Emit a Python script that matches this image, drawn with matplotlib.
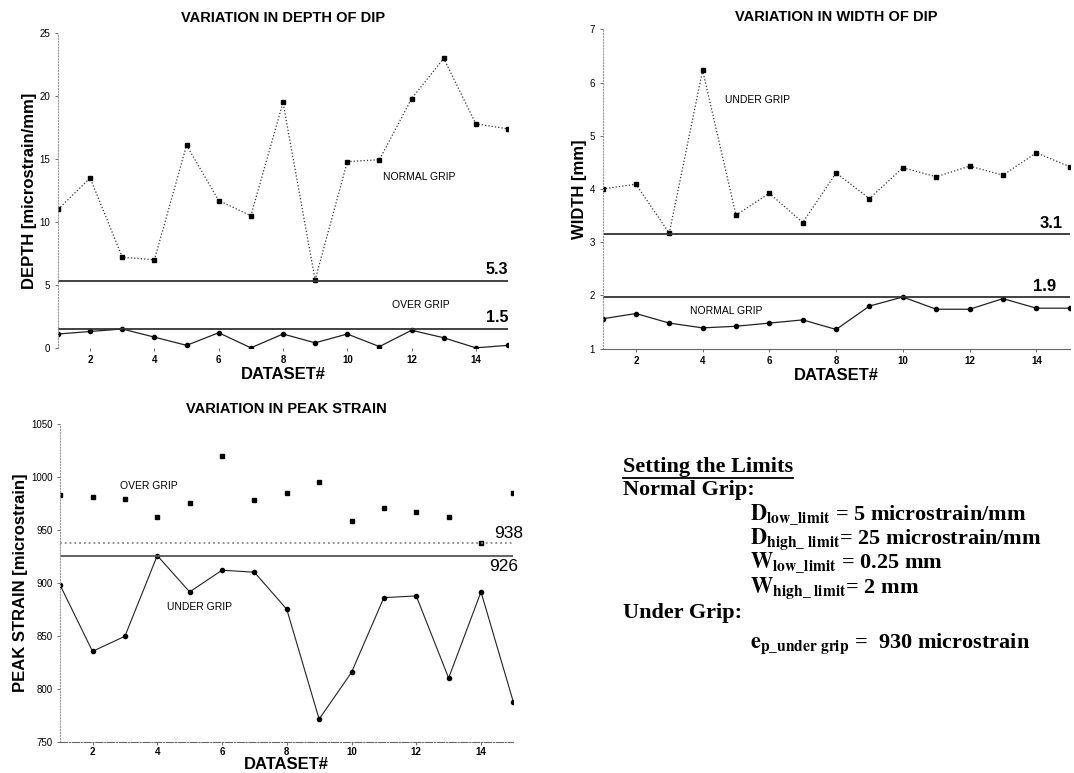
import matplotlib.pyplot as plt
from matplotlib.lines import Line2D
import numpy as np

plt.rcParams['font.family'] = ['Liberation Sans', 'DejaVu Sans']
plt.rcParams['mathtext.fontset'] = 'stix'

datasets = np.arange(1, 16)

# depth of dip [microstrain/mm]
depth_normal = [11.0, 13.5, 7.2, 7.0, 16.1, 11.7, 10.5, 19.5, 5.4, 14.8, 14.95, 19.8, 23.0, 17.8, 17.4]
depth_over = [1.1, 1.3, 1.5, 0.85, 0.2, 1.2, 0.0, 1.1, 0.4, 1.1, 0.1, 1.4, 0.8, 0.0, 0.2]
depth_limits = [5.3, 1.5]

# width of dip [mm]
width_under = [4.0, 4.09, 3.17, 6.23, 3.51, 3.92, 3.37, 4.30, 3.82, 4.40, 4.23, 4.43, 4.26, 4.68, 4.42]
width_normal = [1.56, 1.66, 1.48, 1.39, 1.42, 1.48, 1.54, 1.36, 1.80, 1.97, 1.74, 1.74, 1.94, 1.76, 1.76]
width_limits = [3.15, 1.97]

# peak strain [microstrain]
strain_over = [983.5, 981.6, 979.4, 963, 975.3, 1020.4, 978.5, 985, 995.8, 958.6, 971.5, 967.7, 962.4, 938.4, 984.8]
strain_under = [898.1, 835.7, 849.9, 926.1, 891.8, 912.3, 910.4, 875.4, 771.7, 815.8, 886.4, 888, 810.5, 891.8, 787.8]
strain_limits = [938, 926]

xticks = [2, 4, 6, 8, 10, 12, 14]


def style_axes(ax, show_bottom=True, xlabelpad=1, tickpad=3.5):
    for s in ['top', 'right']:
        ax.spines[s].set_visible(False)
    ax.spines['left'].set_color('#999999')
    ax.spines['left'].set_linestyle(':')
    ax.spines['left'].set_linewidth(0.8)
    if show_bottom:
        ax.spines['bottom'].set_color('#666666')
        ax.spines['bottom'].set_linewidth(0.8)
    else:
        ax.spines['bottom'].set_visible(False)
    ax.set_xticks(xticks)
    ax.tick_params(axis='both', labelsize=7, length=2, width=0.6, color='#555555')
    ax.tick_params(axis='x', pad=tickpad)
    for lab in ax.get_xticklabels():
        lab.set_fontweight('bold')
    ax.set_xlabel('DATASET#', fontsize=12, fontweight='bold', labelpad=xlabelpad)


fig = plt.figure(figsize=(10.74, 7.73), dpi=100)

# 1. depth of dip
ax1 = fig.add_axes([0.054, 0.550, 0.419, 0.407])
ax1.plot(datasets, depth_normal, color='#333333', linestyle=':', linewidth=0.9,
         marker='s', markersize=3, markerfacecolor='black', markeredgecolor='black')
ax1.plot(datasets, depth_over, color='#222222', linestyle='-', linewidth=0.9,
         marker='o', markersize=3, markerfacecolor='black', markeredgecolor='black')
for v in depth_limits:
    ax1.axhline(v, color='#333333', linewidth=1.3)
ax1.text(15, depth_limits[0] + 0.3, '5.3', ha='right', va='bottom', fontsize=11.5, fontweight='bold')
ax1.text(15, depth_limits[1] + 0.3, '1.5', ha='right', va='bottom', fontsize=11.5, fontweight='bold')
ax1.text(11.1, 13.6, 'NORMAL GRIP', fontsize=7.5, va='center')
ax1.text(11.4, 3.4, 'OVER GRIP', fontsize=7.5, va='center')
ax1.set_xlim(1, 15)
ax1.set_ylim(0, 25)
ax1.set_yticks([0, 5, 10, 15, 20, 25])
style_axes(ax1, show_bottom=False)
ax1.set_ylabel('DEPTH [microstrain/mm]', fontsize=12, fontweight='bold', labelpad=2)
ax1.set_title('VARIATION IN DEPTH OF DIP', fontsize=10.5, fontweight='bold', pad=8)

# 2. width of dip
ax2 = fig.add_axes([0.561, 0.549, 0.435, 0.413])
ax2.plot(datasets, width_under, color='#333333', linestyle=':', linewidth=0.9,
         marker='s', markersize=3, markerfacecolor='black', markeredgecolor='black')
ax2.plot(datasets, width_normal, color='#222222', linestyle='-', linewidth=0.9,
         marker='o', markersize=3, markerfacecolor='black', markeredgecolor='black')
for v in width_limits:
    ax2.axhline(v, color='#333333', linewidth=1.3)
ax2.text(14.1, width_limits[0] + 0.06, '3.1', ha='left', va='bottom', fontsize=12, fontweight='bold', clip_on=False)
ax2.text(13.9, width_limits[1] + 0.06, '1.9', ha='left', va='bottom', fontsize=12, fontweight='bold', clip_on=False)
ax2.text(4.67, 5.67, 'UNDER GRIP', fontsize=7.5, va='center')
ax2.text(3.62, 1.71, 'NORMAL GRIP', fontsize=7.5, va='center')
ax2.set_xlim(1, 15)
ax2.set_ylim(1, 7)
ax2.set_yticks([1, 2, 3, 4, 5, 6, 7])
style_axes(ax2)
ax2.set_ylabel('WIDTH [mm]', fontsize=12, fontweight='bold', labelpad=2)
ax2.set_title('VARIATION IN WIDTH OF DIP', fontsize=10.5, fontweight='bold', pad=6)

# 3. peak strain
ax3 = fig.add_axes([0.056, 0.040, 0.422, 0.411])
ax3.plot(datasets, strain_over, linestyle='none',
         marker='s', markersize=3, markerfacecolor='black', markeredgecolor='black')
ax3.plot(datasets, strain_under, color='#222222', linestyle='-', linewidth=0.8,
         marker='o', markersize=3, markerfacecolor='black', markeredgecolor='black')
ax3.axhline(strain_limits[0], color='#888888', linestyle=':', linewidth=1.3)
ax3.axhline(strain_limits[1], color='#555555', linewidth=1.3)
ax3.text(14.4, strain_limits[0] + 1.5, '938', ha='left', va='bottom', fontsize=12.5, clip_on=False)
ax3.text(14.25, strain_limits[1] - 3, '926', ha='left', va='top', fontsize=12.5, clip_on=False)
ax3.text(2.86, 991.4, 'OVER GRIP', fontsize=7.5, va='center')
ax3.text(4.3, 877.6, 'UNDER GRIP', fontsize=7.5, va='center')
ax3.set_xlim(1, 15)
ax3.set_ylim(750, 1050)
ax3.set_yticks([750, 800, 850, 900, 950, 1000, 1050])
style_axes(ax3, xlabelpad=0, tickpad=1.5)
ax3.spines['bottom'].set_linestyle('-.')
ax3.set_ylabel('PEAK STRAIN [microstrain]', fontsize=12, fontweight='bold', labelpad=2)
ax3.set_title('VARIATION IN PEAK STRAIN', fontsize=10.5, fontweight='bold', pad=8)

# limits text panel
serif = dict(family='Liberation Serif', fontweight='bold', fontsize=16, va='baseline')
heading = fig.text(623 / 1074, 1 - 472 / 773, 'Setting the Limits', **serif)
fig.text(623 / 1074, 1 - 495 / 773, 'Normal Grip:', **serif)
fig.text(750 / 1074, 1 - 520 / 773, r'$\mathbf{D}_{\mathbf{low\_limit}}$ = 5 microstrain/mm', **serif)
fig.text(750 / 1074, 1 - 544 / 773, r'$\mathbf{D}_{\mathbf{high\_\ limit}}$= 25 microstrain/mm', **serif)
fig.text(750 / 1074, 1 - 568 / 773, r'$\mathbf{W}_{\mathbf{low\_limit}}$ = 0.25 mm', **serif)
fig.text(750 / 1074, 1 - 593 / 773, r'$\mathbf{W}_{\mathbf{high\_\ limit}}$= 2 mm', **serif)
fig.text(623 / 1074, 1 - 618 / 773, 'Under Grip:', **serif)
fig.text(750 / 1074, 1 - 648 / 773, r'$\mathbf{e}_{\mathbf{p\_under\ grip}}$ =  930 microstrain', **serif)

# underline the heading
fig.canvas.draw()
bb = heading.get_window_extent().transformed(fig.transFigure.inverted())
fig.add_artist(Line2D([bb.x0, bb.x1], [1 - 478 / 773, 1 - 478 / 773],
                      color='black', linewidth=1.3))

fig.savefig('out.png', dpi=100)
